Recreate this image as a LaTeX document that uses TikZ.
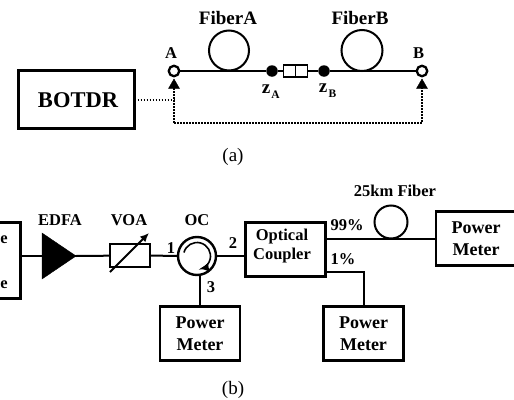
\documentclass[tikz,border=0pt]{standalone}
\usepackage{fontspec}
\setmainfont{Liberation Serif}
\usetikzlibrary{arrows.meta}
\tikzset{
  boxnode/.style={draw=black,line width=2.4pt,rectangle,inner sep=0pt,outer sep=0pt,align=center},
  coilnode/.style={draw=black,line width=2pt,circle,inner sep=0pt,outer sep=0pt},
  portnode/.style={draw=black,line width=2.3pt,circle,fill=white,inner sep=0pt,outer sep=0pt,minimum size=10.5pt},
  splicenode/.style={circle,fill=black,inner sep=0pt,outer sep=0pt,minimum size=11.5pt},
  fib/.style={line width=2pt,line join=miter},
  thickfib/.style={line width=2.4pt},
  dotline/.style={line width=2pt,dash pattern=on 1.7pt off 1.3pt},
  lab/.style={font=\fontsize{16.5}{19}\selectfont\bfseries,inner sep=0pt,align=center},
  bigtxt/.style={font=\fontsize{19}{22}\selectfont\bfseries,inner sep=0pt},
  captxt/.style={font=\fontsize{19}{22}\selectfont,inner sep=0pt},
  meter/.style={font=\fontsize{18}{22.5}\selectfont\bfseries,inner sep=0pt,align=center}
}
\begin{document}
\begin{tikzpicture}[x=1pt,y=-1pt]
\useasboundingbox (0,0) rectangle (514,399);
\clip (0,0) rectangle (514,399);
% ---------- (a)
\node[boxnode,minimum width=116pt,minimum height=58pt] (botdr) at (76.5,99.5) {};
\node[font=\fontsize{22.5}{26}\selectfont\bfseries,inner sep=0pt] (botdrtxt) at (78,100) {BOTDR};
\node[coilnode,minimum size=40pt] (coila) at (229,50.5) {};
\node[coilnode,minimum size=41pt] (coilb) at (362,50.5) {};
\node[portnode] (pa) at (174,71) {};
\node[portnode] (pb) at (422,71) {};
\node[splicenode] (za) at (272,71) {};
\node[splicenode] (zb) at (324,71) {};
\node[draw=black,line width=1.6pt,minimum width=24pt,minimum height=12pt,inner sep=0pt,outer sep=0pt,fill=white] (conn) at (295.5,71) {};
\draw[fib] (pa) -- (za);
\draw[fib] (za) -- (conn);
\draw[fib] (conn) -- (zb);
\draw[fib] (zb) -- (pb);
\draw[line width=1.6pt] (conn.north) -- (conn.south);
\coordinate (turnbotdr) at (174,99.5);
\coordinate (turna) at (174,123);
\coordinate (turnb) at (422,123);
\draw[dotline] ([xshift=3pt]botdr.east) -- (turnbotdr);
\draw[dotline] (turna) -- (174,86);
\draw[dotline] (turna) -- (turnb) -- (422,86);
\draw[black,fill=black] (174,79) -- (179.5,88.5) -- (168.5,88.5) -- cycle;
\draw[black,fill=black] (422,79) -- (427.5,88.5) -- (416.5,88.5) -- cycle;
\node[bigtxt] (fa) at (228,18) {FiberA};
\node[bigtxt] (fb) at (360,18) {FiberB};
\node[lab] (la) at (171,53) {A};
\node[lab] (lb) at (418.5,53) {B};
\node[lab,font=\fontsize{19}{22}\selectfont\bfseries] (lza) at (266,89) {z};
\node[lab,font=\fontsize{11.5}{13}\selectfont\bfseries] (lzas) at (275.5,94.5) {A};
\node[lab,font=\fontsize{19}{22}\selectfont\bfseries] (lzb) at (323,88) {z};
\node[lab,font=\fontsize{11.5}{13}\selectfont\bfseries] (lzbs) at (332.5,94) {B};
\node[captxt] (capa) at (233,157) {(a)};
% ---------- (b)
\node[boxnode,minimum width=30pt,minimum height=76pt] (src) at (5.5,260.5) {};
\node[lab] (srce1) at (4,240) {e};
\node[lab] (srce2) at (4,285) {e};
\node[fill=black,inner sep=0pt,minimum size=0pt] (edfa) at (76,256) {};
\draw[fill=black,black] (42,233) -- (76,256) -- (42,279) -- cycle;
\node[boxnode,line width=2pt,minimum width=40pt,minimum height=23pt,fill=white] (voa) at (130,255.5) {};
\node[coilnode,line width=2.4pt,minimum size=38pt] (oc) at (197,256) {};
\node[boxnode,minimum width=80pt,minimum height=54pt] (coupler) at (285.5,249.5) {};
\node[lab,align=center] (couplertxt) at (282,246) {Optical\\Coupler};
\node[boxnode,minimum width=80pt,minimum height=54pt] (pm1) at (200,333.5) {};
\node[meter] at (pm1) {Power\\Meter};
\node[boxnode,minimum width=80pt,minimum height=54pt] (pm2) at (363.5,333.5) {};
\node[meter] at (pm2) {Power\\Meter};
\node[boxnode,minimum width=84pt,minimum height=54pt,anchor=west] (pm3) at (436,238.5) {};
\node[meter] at (476,238.5) {Power\\Meter};
\node[coilnode,minimum size=33pt] (coilc) at (391,222) {};
\draw[fib] (src.east |- edfa) -- (edfa);
\draw[fib] (edfa) -- (voa);
\draw[fib] (voa) -- (oc);
\draw[fib] (oc) -- (coupler.west |- oc);
\draw[thickfib] (oc.south -| pm1.north) -- (pm1.north);
\coordinate (aout) at (325,239);
\coordinate (bout) at (325,272);
\coordinate (bturn) at (364,272);
\draw[fib] (aout) -- (pm3.west |- aout);
\draw[thickfib] (bout) -- (bturn) -- (bturn |- pm2.north);
\draw[line width=2pt,-{Latex[length=9pt,width=8pt]}] (110,272) -- (149,233);
\draw[line width=1.6pt,-{Latex[length=9pt,width=9pt]}] (197,256) ++(195:13.5) arc (195:425:13.5) -- ++(-3,0.5);
\node[lab] (ledfa) at (60,220) {EDFA};
\node[lab] (lvoa) at (129,220) {VOA};
\node[lab] (loc) at (197,220) {OC};
\node[lab] (l1) at (171,248) {1};
\node[lab] (l2) at (233,243) {2};
\node[lab] (l3) at (211,287) {3};
\node[lab] (lfib) at (395,191) {25km Fiber};
\node[lab] (l99) at (347,225) {99\%};
\node[lab] (l1p) at (343,259) {1\%};
\node[captxt] (capb) at (233,390) {(b)};
\end{tikzpicture}
\end{document}
